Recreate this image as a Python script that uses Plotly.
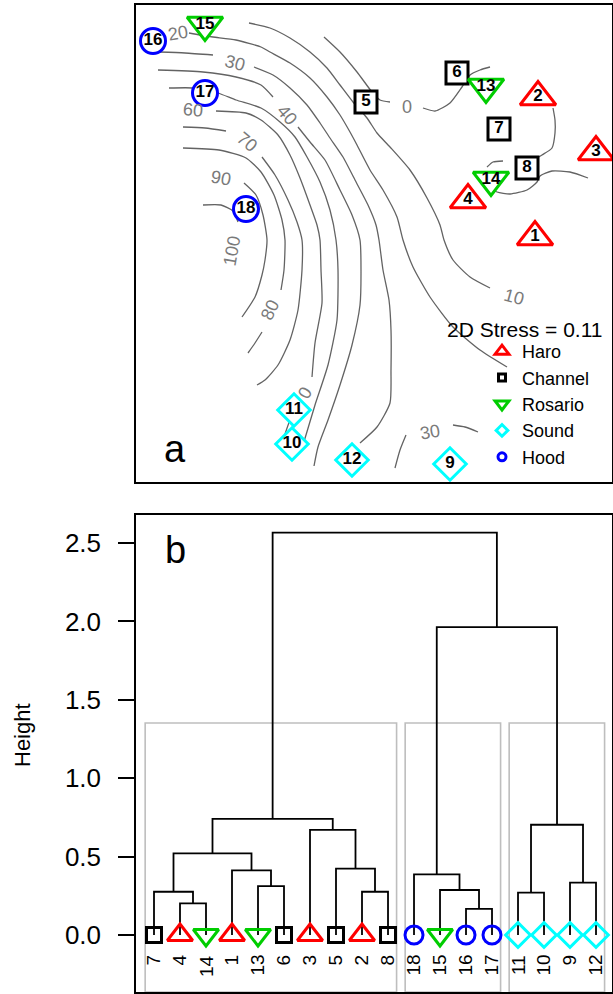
import plotly.graph_objects as go

W, H = 613, 994
FONT = "Liberation Sans, Arial, Helvetica, sans-serif"

# ---------------- Panel a: NMDS ordination ----------------
site_id = list(range(1, 19))
site_group = ["Haro", "Haro", "Haro", "Haro", "Channel", "Channel", "Channel", "Channel",
              "Sound", "Sound", "Sound", "Sound", "Rosario", "Rosario", "Rosario",
              "Hood", "Hood", "Hood"]
nmds1 = [1.63, 1.66, 2.24, 0.96, -0.06, 0.85, 1.27, 1.55, 0.78, -0.80, -0.78, -0.20,
         1.14, 1.19, -1.67, -2.19, -1.67, -1.26]
nmds2 = [0.08, 1.48, 0.93, 0.45, 1.43, 1.72, 1.16, 0.77, -2.19, -1.99, -1.65, -2.15,
         1.58, 0.65, 2.20, 2.04, 1.52, 0.36]
stress_text = "2D Stress = 0.11"

groups = ["Haro", "Channel", "Rosario", "Sound", "Hood"]
group_color = {"Haro": "#FF0000", "Channel": "#000000", "Rosario": "#00CD00",
               "Sound": "#00FFFF", "Hood": "#0000FF"}
group_symbol = {"Haro": "triangle-up", "Channel": "square", "Rosario": "triangle-down",
                "Sound": "diamond", "Hood": "circle"}

# fitted surface contours (ordisurf); None = break
c0_x = [-0.48, -0.32, -0.15, 0.00, 0.08, 0.18, None, 0.51, 0.63, 0.78, 0.90, 0.98, 1.08, 1.18, None,
        1.81, 1.83, 1.83, 1.80, 1.70, 1.58, None,
        2.16, 1.98, 1.80, 1.68, 1.65, 1.55, 1.38, 1.25, 1.18, None,
        1.31, 1.21, 1.15]
c0_y = [2.08, 1.93, 1.73, 1.53, 1.45, 1.43, None, 1.37, 1.34, 1.42, 1.58, 1.70, 1.75, 1.78, None,
        1.37, 1.25, 1.12, 0.97, 0.90, 0.83, None,
        0.67, 0.73, 0.74, 0.69, 0.63, 0.55, 0.51, 0.53, 0.57, None,
        0.84, 0.83, 0.78]
c10_x = [-1.23, -1.02, -0.82, -0.62, -0.45, -0.32, -0.19, -0.05, 0.05, 0.18, 0.38, 0.55, 0.68,
         0.72, 0.81, 0.98, 1.18]
c10_y = [2.22, 2.17, 2.07, 1.93, 1.77, 1.60, 1.43, 1.27, 1.12, 0.98, 0.75, 0.47, 0.20,
         0.05, -0.15, -0.32, -0.43]
c20_x = [-1.83, -1.72, -1.59, -1.36, -1.11, -1.02, -0.82, -0.62, -0.45, -0.32, -0.22, -0.15,
         -0.02, 0.11, 0.25, 0.31, 0.41, 0.58, 0.81, 1.08, 1.35]
c20_y = [2.12, 2.10, 2.08, 2.05, 1.98, 1.93, 1.82, 1.67, 1.48, 1.30, 1.13, 1.00,
         0.75, 0.55, 0.28, 0.05, -0.22, -0.52, -0.82, -1.05, -1.22]
c30_x = [-2.13, -1.87, -1.59, None,
         -1.18, -0.99, -0.82, -0.65, -0.52, -0.42, -0.29, -0.17, -0.04, 0.04, 0.07, 0.11, 0.17,
         0.19, 0.19, 0.18, 0.05, -0.12, None,
         0.23, 0.28, 0.34, None,
         0.81, 0.93, 1.06]
c30_y = [1.93, 1.92, 1.90, None,
         1.78, 1.70, 1.57, 1.40, 1.22, 1.07, 0.88, 0.65, 0.40, 0.20, 0.05, -0.25, -0.55,
         -0.85, -1.25, -1.58, -1.82, -1.98, None,
         -2.23, -2.05, -1.90, None,
         -1.80, -1.82, -1.87]
c40_x = [-2.14, -1.69, -1.36, -1.11, -0.99, None,
         -0.74, -0.62, -0.47, -0.32, -0.20, -0.12, -0.11, -0.12, -0.20, -0.32, -0.44, -0.54, -0.58]
c40_y = [1.75, 1.73, 1.68, 1.60, 1.48, None,
         1.18, 1.03, 0.85, 0.55, 0.30, 0.05, -0.25, -0.60, -1.00, -1.40, -1.75, -2.02, -2.21]
c50_x = [-2.03, -1.78, -1.54, -1.36, -1.11, -0.92, -0.77, -0.65, -0.52, -0.42, -0.36, -0.34,
         -0.35, -0.44, -0.57, -0.66, -0.70]
c50_y = [1.57, 1.57, 1.52, 1.45, 1.37, 1.23, 1.08, 0.88, 0.63, 0.35, 0.05, -0.25,
         -0.75, -1.20, -1.60, -1.90, -2.03]
c60_x = [-1.56, -1.26, -1.11, -0.94, -0.82, -0.72, -0.62, -0.55, -0.52, -0.51, -0.50, -0.57,
         -0.60, None, -0.73, -0.82, -0.88]
c60_y = [1.34, 1.32, 1.25, 1.10, 0.90, 0.67, 0.40, 0.20, 0.05, -0.25, -0.58, -0.98,
         -1.32, None, -1.57, -1.75, -1.92]
c70_x = [-1.89, -1.67, -1.46, None,
         -1.10, -0.97, -0.84, -0.75, -0.70, -0.70, -0.74, -0.82, -0.94, -1.07, -1.15]
c70_y = [1.18, 1.17, 1.14, None,
         0.88, 0.70, 0.45, 0.23, 0.05, -0.25, -0.65, -0.95, -1.20, -1.35, -1.40]
c80_x = [-1.89, -1.53, -1.26, -1.11, -0.98, -0.90, -0.87, -0.88, -0.91, None, -1.10, -1.17, -1.24]
c80_y = [0.97, 0.95, 0.87, 0.73, 0.50, 0.25, 0.05, -0.25, -0.45, None, -0.87, -0.98, -1.08]
c90_x = [-1.28, -1.16, -1.09, -1.05, -1.07, -1.10, -1.17, -1.30]
c90_y = [0.62, 0.50, 0.30, 0.05, -0.15, -0.30, -0.52, -0.72]
c100_x = [-1.69, -1.51, -1.39, -1.34]
c100_y = [0.40, 0.40, 0.34, 0.23]

clabel_text = ["0", "10", "20", "30", "30", "40", "0", "60", "70", "80", "90", "100"]
clabel_x = [0.35, 1.42, -1.94, -1.37, 0.58, -0.85, -0.67, -1.79, -1.25, -1.02, -1.51, -1.40]
clabel_y = [1.38, -0.52, 2.12, 1.82, -1.87, 1.30, -1.48, 1.35, 1.03, -0.65, 0.67, -0.06]
clabel_angle = [0, 15, -10, 15, -10, 50, -60, 5, 40, -65, 10, -80]

# ---------------- Panel b: cluster dendrogram ----------------
leaf_order = [7, 4, 14, 1, 13, 6, 3, 5, 2, 8, 18, 15, 16, 17, 11, 10, 9, 12]
# hclust-style merges: negative = site, positive = earlier merge (1-based)
merge_a = [-16, -4, -11, -7, -2, -15, -13, -9, -18, -1, -5, 4, -3, 3, 12, 9, 15]
merge_b = [-17, -14, -10, 2, -8, 1, -6, -12, 6, 7, 5, 10, 11, 8, 13, 14, 16]
merge_h = [0.166, 0.202, 0.270, 0.276, 0.276, 0.287, 0.312, 0.334, 0.387, 0.412, 0.423,
           0.521, 0.670, 0.703, 0.740, 1.964, 2.566]
n_clusters = 3
height_ticks = [0.0, 0.5, 1.0, 1.5, 2.0, 2.5]
height_ticktext = ["0.0", "0.5", "1.0", "1.5", "2.0", "2.5"]

# ---------------- layout helpers ----------------
def px_x(p):
    return p / W

def px_y(p):
    return 1 - p / H

ax_dom_x = [px_x(136), px_x(612)]
a_dom_y = [px_y(482), px_y(5)]
b_dom_y = [px_y(992), px_y(515)]
a_xr = [-2.36, 2.40]
a_yr = [-2.37, 2.40]
b_xr = [0.3077, 18.615]
b_yr = [-0.3635, 2.6786]

fig = go.Figure()

contours = [(c0_x, c0_y), (c10_x, c10_y), (c20_x, c20_y), (c30_x, c30_y), (c40_x, c40_y),
            (c50_x, c50_y), (c60_x, c60_y), (c70_x, c70_y), (c80_x, c80_y), (c90_x, c90_y),
            (c100_x, c100_y)]
for cx, cy in contours:
    fig.add_trace(go.Scatter(x=cx, y=cy, mode="lines", xaxis="x", yaxis="y",
                             line=dict(color="#636363", width=1.3, shape="spline", smoothing=0.6),
                             hoverinfo="skip", showlegend=False, connectgaps=False))

size_a = {"Haro": 31, "Channel": 22, "Rosario": 31, "Sound": 25, "Hood": 25}
for g in groups:
    idx = [i for i, s in enumerate(site_group) if s == g]
    fig.add_trace(go.Scatter(
        x=[nmds1[i] for i in idx], y=[nmds2[i] for i in idx],
        text=[str(site_id[i]) for i in idx], mode="markers+text",
        textposition="middle center",
        textfont=dict(family=FONT, size=17, color="black", weight="bold"),
        marker=dict(symbol=group_symbol[g], size=size_a[g], color="white",
                    line=dict(color=group_color[g], width=3)),
        xaxis="x", yaxis="y", showlegend=False, cliponaxis=False))

size_leg = {"Haro": 12, "Channel": 7, "Rosario": 12, "Sound": 9, "Hood": 8}
for g in groups:
    fig.add_trace(go.Scatter(
        x=[None], y=[None], mode="markers", name=g, xaxis="x", yaxis="y",
        marker=dict(symbol=group_symbol[g], size=size_leg[g], color="white",
                    line=dict(color=group_color[g], width=3)),
        showlegend=True))

pos = {leaf: i + 1 for i, leaf in enumerate(leaf_order)}
node_x, node_h, node_leaves = {}, {}, {}

def child(c):
    if c < 0:
        return pos[-c], 0.0, [-c]
    return node_x[c], node_h[c], node_leaves[c]

seg_x, seg_y = [], []
for i, (a, b, h) in enumerate(zip(merge_a, merge_b, merge_h), start=1):
    xa, ha, la = child(a)
    xb, hb, lb = child(b)
    seg_x += [xa, xa, xb, xb, None]
    seg_y += [ha, h, h, hb, None]
    node_x[i] = (xa + xb) / 2
    node_h[i] = h
    node_leaves[i] = la + lb

n_m = len(merge_h)
removed = set(range(n_m - n_clusters + 2, n_m + 1))
roots = []
for m in sorted(removed):
    for c in (merge_a[m - 1], merge_b[m - 1]):
        if c < 0 or c not in removed:
            roots.append(c)
hs = sorted(merge_h, reverse=True)
rect_top = (hs[n_clusters - 2] + hs[n_clusters - 1]) / 2
rx, ry = [], []
for r in roots:
    leaves = [-r] if r < 0 else node_leaves[r]
    ps = [pos[l] for l in leaves]
    x0, x1 = min(ps) - 0.34, max(ps) + 0.33
    rx += [x0, x1, x1, x0, x0, None]
    ry += [b_yr[0], b_yr[0], rect_top, rect_top, b_yr[0], None]

fig.add_trace(go.Scatter(x=rx, y=ry, mode="lines", xaxis="x2", yaxis="y2",
                         line=dict(color="#BEBEBE", width=1.6), hoverinfo="skip",
                         showlegend=False))
fig.add_trace(go.Scatter(x=seg_x, y=seg_y, mode="lines", xaxis="x2", yaxis="y2",
                         line=dict(color="black", width=1.8), hoverinfo="skip",
                         showlegend=False))

size_b = {"Haro": 22, "Channel": 15, "Rosario": 22, "Sound": 19, "Hood": 18}
for g in groups:
    leaves = [l for l in leaf_order if site_group[l - 1] == g]
    fig.add_trace(go.Scatter(
        x=[pos[l] for l in leaves], y=[0.0] * len(leaves), mode="markers",
        marker=dict(symbol=group_symbol[g], size=size_b[g], color="rgba(0,0,0,0)",
                    line=dict(color=group_color[g], width=3)),
        xaxis="x2", yaxis="y2", showlegend=False, cliponaxis=False))

ann = []
for t, x, y, ang in zip(clabel_text, clabel_x, clabel_y, clabel_angle):
    ann.append(dict(x=x, y=y, xref="x", yref="y", text=t, showarrow=False, textangle=ang,
                    xanchor="center", yanchor="middle",
                    font=dict(family=FONT, size=18, color="#7a7a7a")))
for leaf in leaf_order:
    ann.append(dict(x=pos[leaf], y=-0.115, xref="x2", yref="y2", text=str(leaf),
                    showarrow=False, textangle=-90, yanchor="top", xanchor="center",
                    font=dict(family=FONT, size=19, color="black")))
ann.append(dict(x=px_x(604), y=px_y(329), xref="paper", yref="paper", text=stress_text,
                showarrow=False, xanchor="right", yanchor="middle",
                font=dict(family=FONT, size=21, color="black")))
ann.append(dict(x=px_x(175), y=px_y(449), xref="paper", yref="paper", text="a",
                showarrow=False, xanchor="center", yanchor="middle",
                font=dict(family=FONT, size=38, color="black")))
ann.append(dict(x=px_x(176), y=px_y(550), xref="paper", yref="paper", text="b",
                showarrow=False, xanchor="center", yanchor="middle",
                font=dict(family=FONT, size=38, color="black")))
ann.append(dict(x=px_x(22), y=px_y(735), xref="paper", yref="paper", text="Height",
                showarrow=False, textangle=-90, xanchor="center", yanchor="middle",
                font=dict(family=FONT, size=22, color="black")))

frame = dict(showline=True, mirror=True, linecolor="black", linewidth=1.5,
             showgrid=False, zeroline=False)
fig.update_layout(
    width=W, height=H, margin=dict(l=0, r=0, t=0, b=0),
    paper_bgcolor="white", plot_bgcolor="white",
    font=dict(family=FONT, color="black"),
    xaxis=dict(domain=ax_dom_x, range=a_xr, showticklabels=False, ticks="", **frame),
    yaxis=dict(domain=a_dom_y, range=a_yr, showticklabels=False, ticks="", **frame),
    xaxis2=dict(domain=ax_dom_x, range=b_xr, anchor="y2", showticklabels=False, ticks="",
                **frame),
    yaxis2=dict(domain=b_dom_y, range=b_yr, anchor="x2", tickvals=height_ticks,
                ticktext=height_ticktext, ticks="outside", ticklen=16, tickwidth=1.5,
                tickcolor="black", ticklabelstandoff=12,
                tickfont=dict(family=FONT, size=26, color="black"),
                **frame),
    legend=dict(x=px_x(482), y=px_y(333), xanchor="left", yanchor="top",
                bgcolor="rgba(0,0,0,0)", borderwidth=0, itemsizing="trace",
                font=dict(family=FONT, size=18, color="black"), tracegroupgap=0),
    annotations=ann, showlegend=True,
)

fig.write_html("out.html")
